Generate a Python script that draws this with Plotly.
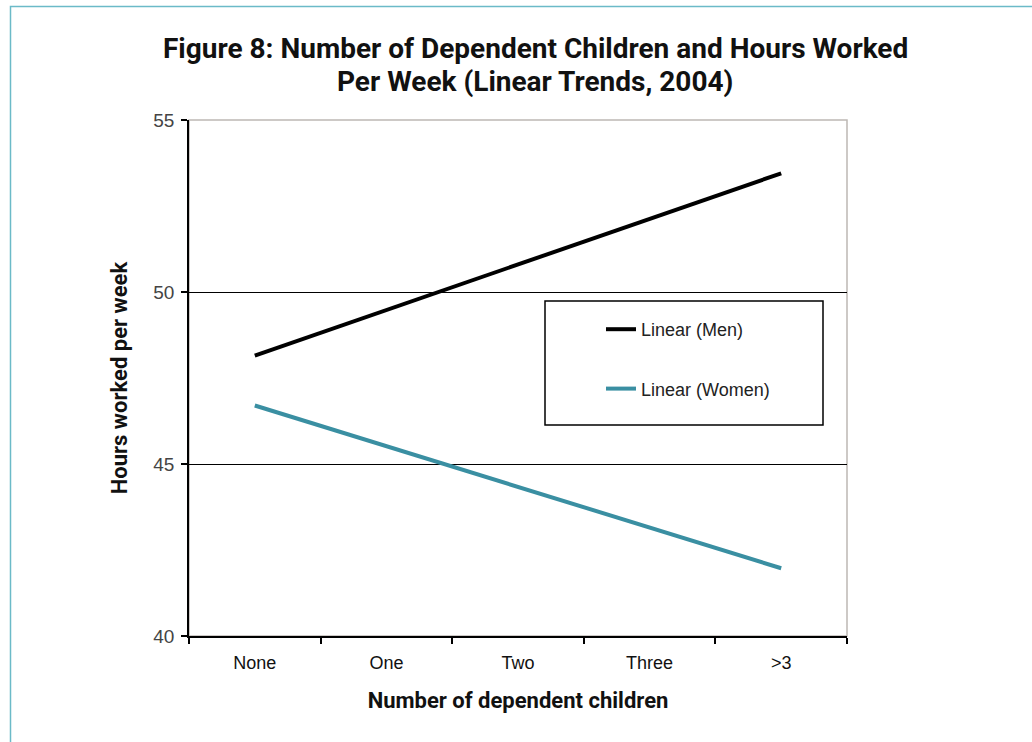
import plotly.graph_objects as go

categories = ["None", "One", "Two", "Three", ">3"]
men = [48.15, 49.48, 50.80, 52.12, 53.45]
women = [46.70, 45.52, 44.33, 43.15, 41.97]
y_ticks = [40, 45, 50, 55]
title_lines = ["Figure 8: Number of Dependent Children and Hours Worked",
               "Per Week (Linear Trends, 2004)"]

W, H = 1032, 742
L, R, T, B = 189, 185, 120, 106
pw = W - L - R
ph = H - T - B

def px_x(x):
    return (x - L) / pw

def px_y(y):
    return (H - B - y) / ph

boldfont = "Roboto, Liberation Sans, Arial, sans-serif"
regular = "Liberation Sans, Arial, sans-serif"

fig = go.Figure()
fig.add_trace(go.Scatter(x=categories, y=men, mode="lines", name="Linear (Men)",
                         line=dict(color="#000000", width=4), legendgroup="m"))
fig.add_trace(go.Scatter(x=categories, y=women, mode="lines", name="Linear (Women)",
                         line=dict(color="#3A8FA2", width=4), legendgroup="w"))

annotations = []
for line_text, yc in zip(title_lines, [49, 81]):
    annotations.append(dict(text="<b>" + line_text + "</b>", xref="paper", yref="paper",
                            x=px_x(535), y=px_y(yc), xanchor="center", yanchor="middle",
                            showarrow=False,
                            font=dict(family=boldfont, size=28, color="#111111")))

fig.update_layout(
    width=W, height=H,
    margin=dict(l=L, r=R, t=T, b=B),
    paper_bgcolor="white", plot_bgcolor="white",
    annotations=annotations,
    showlegend=True,
    legend=dict(x=px_x(601), xanchor="left", y=px_y(311), yanchor="top",
                bgcolor="rgba(0,0,0,0)", borderwidth=0,
                font=dict(family=regular, size=18, color="#222222"),
                traceorder="grouped", tracegroupgap=33),
    xaxis=dict(type="category", categoryorder="array", categoryarray=categories,
               range=[-0.5, 4.5], showline=True, linecolor="#000000", linewidth=1.5,
               ticks="outside", tickson="boundaries", ticklen=6, tickcolor="#000000", tickwidth=1.5,
               showgrid=False, ticklabelstandoff=10,
               tickfont=dict(family=regular, size=18, color="#111111"),
               title=dict(text="<b>Number of dependent children</b>", standoff=20,
                          font=dict(family=boldfont, size=22, color="#111111"))),
    yaxis=dict(range=[40, 55], tickvals=y_ticks, showline=True, linecolor="#000000", linewidth=1.5,
               ticks="outside", ticklen=6, tickcolor="#000000", tickwidth=1.5,
               showgrid=True, gridcolor="#000000", gridwidth=1, zeroline=False,
               ticklabelstandoff=3,
               tickfont=dict(family=regular, size=19, color="#444444"),
               title=dict(text="<b>Hours worked per week</b>", standoff=20,
                          font=dict(family=boldfont, size=22, color="#111111"))),
    shapes=[
        dict(type="rect", xref="paper", yref="paper", x0=0, x1=1, y0=0, y1=1,
             line=dict(color="#BDB8B4", width=1.5), layer="below"),
        dict(type="rect", xref="paper", yref="paper",
             x0=px_x(545), x1=px_x(823), y0=px_y(425), y1=px_y(301),
             line=dict(color="#000000", width=1.5), fillcolor="rgba(0,0,0,0)", layer="above"),
        dict(type="rect", xref="paper", yref="paper",
             x0=px_x(10.5), x1=px_x(1050), y0=px_y(760), y1=px_y(6.5),
             line=dict(color="#6BBAC8", width=1.5), fillcolor="rgba(0,0,0,0)", layer="above"),
    ],
)

fig.write_html("out.html", config={"displayModeBar": False},
               post_script="document.body.style.margin='0';document.body.style.overflow='hidden';")
